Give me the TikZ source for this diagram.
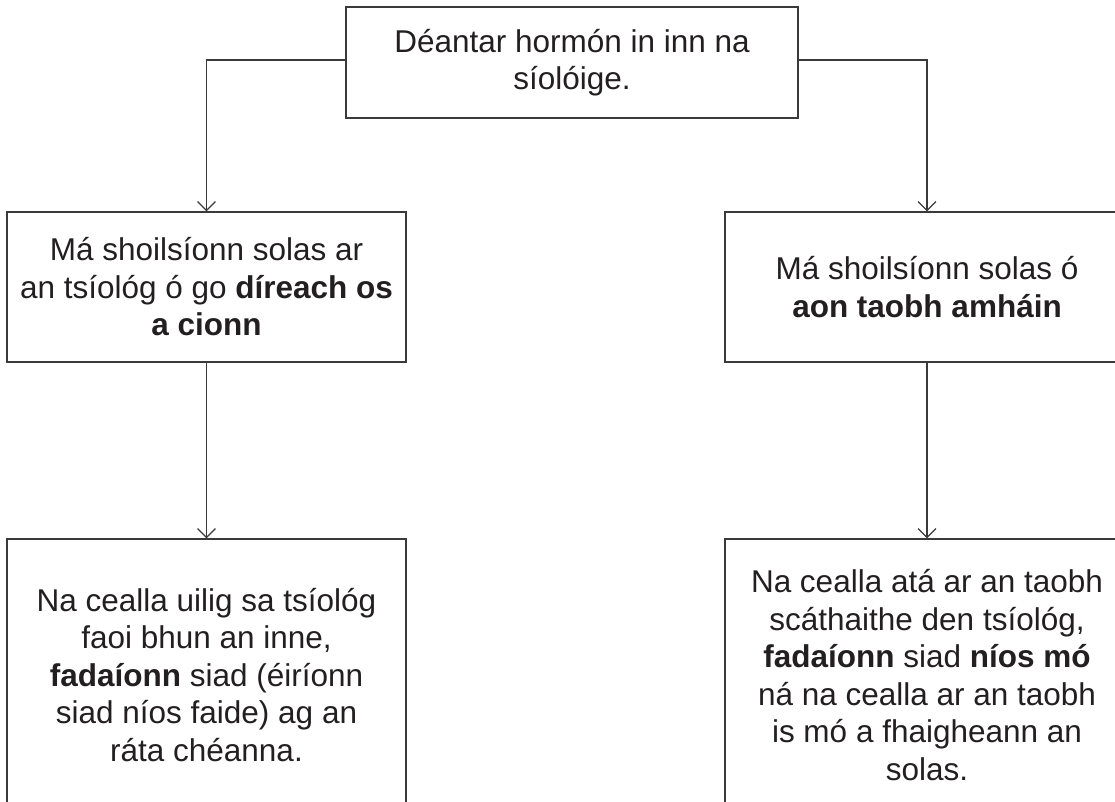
\documentclass[tikz,border=0pt]{standalone}
\usepackage{fontspec}
\setmainfont{Liberation Sans}
\usetikzlibrary{arrows.meta}
\definecolor{linegray}{HTML}{3A3A3A}
\definecolor{textblack}{HTML}{231F20}
\begin{document}
\begin{tikzpicture}[x=1pt,y=-1pt,
  box/.style={draw=linegray, line width=1.2pt, inner sep=0pt, align=center,
    font=\fontsize{31.5}{37.5}\selectfont, text=textblack},
  conn/.style={draw=linegray, line width=1.2pt,
    -{Straight Barb[length=9pt,width=18pt,line width=1.2pt]}}]
\useasboundingbox (0,0) rectangle (1115,801);
\clip (0,0) rectangle (1115,801);
\node[box, minimum width=452pt, minimum height=111pt] (top) at (572,62.5)
  {Déantar hormón in inn na\\síolóige.};
\node[box, minimum width=399pt, minimum height=150pt] (ml) at (206.5,287)
  {Má shoilsíonn solas ar\\an tsíológ ó go \textbf{díreach os}\\\textbf{a cionn}};
\node[box, minimum width=404pt, minimum height=150pt] (mr) at (927,287)
  {Má shoilsíonn solas ó\\\textbf{aon taobh amháin}};
\node[box, minimum width=399pt, minimum height=272pt] (bl) at (206.5,675)
  {Na cealla uilig sa tsíológ\\faoi bhun an inne,\\\textbf{fadaíonn} siad (éiríonn\\siad níos faide) ag an\\ráta chéanna.};
\node[box, minimum width=404pt, minimum height=272pt] (br) at (927,675)
  {Na cealla atá ar an taobh\\scáthaithe den tsíológ,\\\textbf{fadaíonn} siad \textbf{níos mó}\\ná na cealla ar an taobh\\is mó a fhaigheann an\\solas.};
\draw[conn] ([yshift=2.5pt]top.west) -| (ml.north);
\draw[conn] ([yshift=2.5pt]top.east) -| (mr.north);
\draw[conn] (ml.south) -- (bl.north);
\draw[conn] (mr.south) -- (br.north);
\end{tikzpicture}
\end{document}
